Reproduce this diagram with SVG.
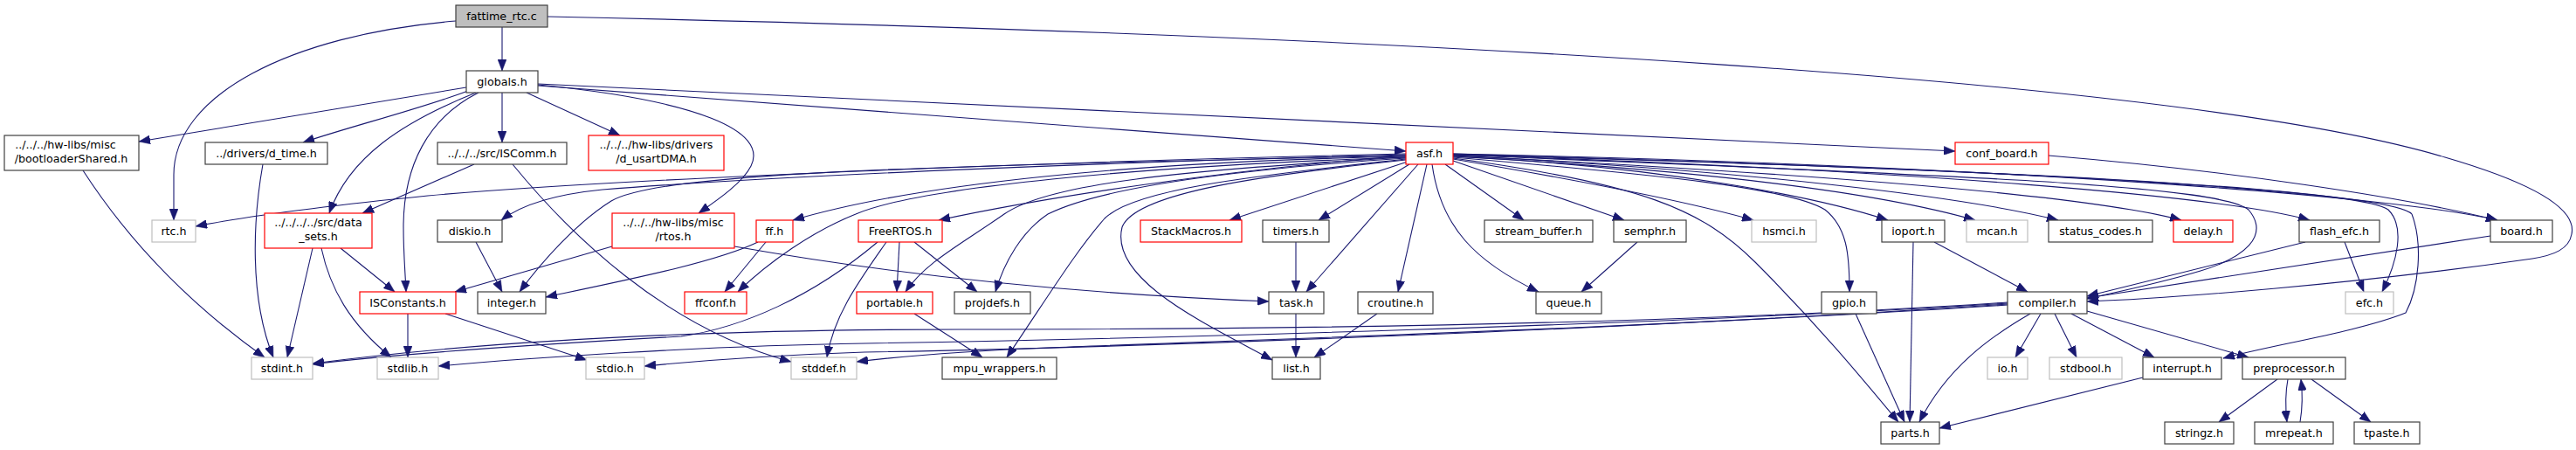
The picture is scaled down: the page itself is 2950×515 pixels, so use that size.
<svg xmlns="http://www.w3.org/2000/svg" width="2950" height="515" viewBox="0 0 2950 515">
<style>
.n rect{fill:#fff;stroke:#404040;stroke-width:1.2}
.g rect{fill:#fff;stroke:#bfbfbf;stroke-width:1.2}
.r rect{fill:#fff;stroke:#ff0000;stroke-width:1.2}
.root rect{fill:#bfbfbf;stroke:#404040;stroke-width:1.2}
text{font-family:"DejaVu Sans","Liberation Sans",sans-serif;font-size:12.7px;text-anchor:middle;fill:#000}
#edges path{fill:none;stroke:#191970;stroke-width:1.1;marker-end:url(#ah)}
</style>
<defs>
<marker id="ah" viewBox="0 0 13 10" markerWidth="13" markerHeight="10" refX="13" refY="5" orient="auto" markerUnits="userSpaceOnUse">
<path d="M0,0 L13,5 L0,10 z" fill="#191970" stroke="#191970" stroke-width="0.5"/>
</marker>
</defs>
<rect width="2950" height="515" fill="#fff"/>
<g id="edges">
<path d="M575,31 L575,81"/>
<path d="M522,24 C330,40 199,110 199,200 L199,252"/>
<path d="M627,19 C1600,40 2500,90 2800,180 C2920,215 2950,245 2945,268 C2942,285 2925,292 2900,296 C2700,325 2480,342 2390,345"/>
<path d="M534,100 L159,162"/>
<path d="M536,104 C480,125 400,145 347,163"/>
<path d="M545,106 C460,140 400,180 377,244"/>
<path d="M548,106 C490,135 462,190 462,260 C462,290 464,310 465,334"/>
<path d="M575,106 L575,163"/>
<path d="M603,106 L710,155"/>
<path d="M616,97 C800,115 880,150 860,190 C850,210 820,230 800,244"/>
<path d="M616,96 L2239,173"/>
<path d="M616,98 L1610,173"/>
<path d="M543,188 L415,244"/>
<path d="M587,188 C650,265 760,375 906,414"/>
<path d="M358,284 L329,409"/>
<path d="M368,284 C378,330 400,370 448,409"/>
<path d="M390,284 L452,334"/>
<path d="M301,188 C290,250 285,340 313,409"/>
<path d="M95,195 C150,280 220,350 303,409"/>
<path d="M467,359 L467,409"/>
<path d="M510,359 L672,412"/>
<path d="M701,282 L521,334"/>
<path d="M841,282 C1000,310 1200,335 1453,345"/>
<path d="M545,277 L575,334"/>
<path d="M877,277 L830,334"/>
<path d="M868,277 C820,300 720,320 625,340"/>
<path d="M1030,277 L1027,334"/>
<path d="M1047,277 L1119,334"/>
<path d="M1005,277 C930,340 850,375 780,385 C600,395 450,405 358,417"/>
<path d="M1015,277 C985,320 955,360 947,409"/>
<path d="M1047,359 L1125,409"/>
<path d="M1484,277 L1484,334"/>
<path d="M1484,359 L1484,409"/>
<path d="M1577,359 L1505,409"/>
<path d="M1875,277 L1811,334"/>
<path d="M2191,277 L2187,483"/>
<path d="M2215,277 L2322,334"/>
<path d="M2125,359 L2181,483"/>
<path d="M2325,359 C2280,385 2230,420 2198,483"/>
<path d="M2337,359 L2308,409"/>
<path d="M2353,359 L2378,409"/>
<path d="M2372,359 L2467,409"/>
<path d="M2390,356 L2575,409"/>
<path d="M2454,432 L2221,490"/>
<path d="M2608,434 L2541,483"/>
<path d="M2620,434 C2617,450 2617,465 2619,483"/>
<path d="M2634,483 C2637,465 2637,450 2635,434"/>
<path d="M2647,434 L2715,483"/>
<path d="M2685,277 L2707,334"/>
<path d="M2640,277 L2390,339"/>
<path d="M2852,270 L2390,341"/>
<path d="M2346,178 C2550,195 2750,225 2860,252"/>
<path d="M1610,176 C1200,185 700,205 490,224 C380,235 280,248 224,259"/>
<path d="M1610,177 C1300,185 900,200 690,217 C640,222 600,232 574,252"/>
<path d="M1610,178 C1100,190 760,195 700,230 C660,255 620,300 595,334"/>
<path d="M1610,179 C1300,185 1050,210 908,252"/>
<path d="M1610,180 C1300,190 1050,215 980,245 C930,265 880,300 845,334"/>
<path d="M1610,178 C1400,195 1200,225 1075,252"/>
<path d="M1610,180 C1350,195 1200,210 1150,245 C1100,280 1060,300 1037,334"/>
<path d="M1610,181 C1400,195 1260,215 1200,245 C1170,265 1150,300 1140,334"/>
<path d="M1610,182 C1450,200 1300,215 1265,250 C1230,290 1200,340 1153,409"/>
<path d="M1610,183 C1450,200 1300,220 1285,260 C1270,320 1380,370 1457,412"/>
<path d="M1612,185 L1408,252"/>
<path d="M1614,188 L1510,252"/>
<path d="M1624,188 L1496,334"/>
<path d="M1634,188 L1601,334"/>
<path d="M1640,188 C1650,260 1690,300 1762,334"/>
<path d="M1655,188 L1745,252"/>
<path d="M1664,184 L1860,252"/>
<path d="M1664,182 C1800,205 1930,230 2008,252"/>
<path d="M1664,181 C1880,210 1950,240 2010,300 C2080,370 2130,430 2174,483"/>
<path d="M1664,180 C1900,200 2050,215 2090,240 C2115,260 2118,290 2118,334"/>
<path d="M1664,179 C1900,190 2080,225 2162,252"/>
<path d="M1664,179 C1950,195 2150,220 2262,252"/>
<path d="M1664,178 C2000,195 2250,225 2357,252"/>
<path d="M1664,178 C2100,200 2400,225 2498,252"/>
<path d="M1664,177 C2200,195 2550,225 2645,252"/>
<path d="M1664,176 C2300,190 2750,225 2860,252"/>
<path d="M1664,177 C2200,200 2540,210 2575,240 C2600,270 2570,295 2520,310 C2470,325 2420,335 2390,342"/>
<path d="M1664,176 C2300,195 2700,215 2735,240 C2755,260 2745,300 2728,334"/>
<path d="M1664,177 C2350,195 2740,220 2762,245 C2775,280 2770,330 2755,358 C2700,380 2600,395 2546,410"/>
<path d="M2299,346 C2000,366 1600,377 1100,377 C700,377 480,400 358,416"/>
<path d="M2299,347 C1900,372 1300,388 990,393 C800,396 600,410 502,419"/>
<path d="M2299,348 C1900,375 1300,398 990,403 C900,406 800,413 738,419"/>
<path d="M2299,349 C1900,375 1400,390 1200,398 C1100,402 1030,408 981,414"/>
</g>
<g id="n_fattime" class="root"><rect x="522" y="6" width="105" height="25"/><text x="574.5" y="22.5">fattime_rtc.c</text></g>
<g id="n_globals" class="n"><rect x="534" y="81" width="82" height="25"/><text x="575" y="97.5">globals.h</text></g>
<g id="n_bootloader" class="n"><rect x="5" y="155" width="154" height="40"/><text x="75" y="170">../../../hw-libs/misc</text><text x="81.5" y="185.5">/bootloaderShared.h</text></g>
<g id="n_dtime" class="n"><rect x="235" y="163" width="140" height="25"/><text x="305" y="179.5">../drivers/d_time.h</text></g>
<g id="n_iscomm" class="n"><rect x="501" y="163" width="148" height="25"/><text x="575" y="179.5">../../../src/ISComm.h</text></g>
<g id="n_usartdma" class="r"><rect x="674" y="155" width="155" height="40"/><text x="751.5" y="170">../../../hw-libs/drivers</text><text x="751.5" y="185.5">/d_usartDMA.h</text></g>
<g id="n_asf" class="r"><rect x="1610" y="163" width="54" height="25"/><text x="1637" y="179.5">asf.h</text></g>
<g id="n_confboard" class="r"><rect x="2239" y="163" width="107" height="25"/><text x="2292.5" y="179.5">conf_board.h</text></g>
<g id="n_rtc" class="g"><rect x="174" y="252" width="50" height="25"/><text x="199" y="268.5">rtc.h</text></g>
<g id="n_datasets" class="r"><rect x="303" y="244" width="123" height="40"/><text x="364.5" y="259">../../../../src/data</text><text x="364.5" y="274.5">_sets.h</text></g>
<g id="n_diskio" class="n"><rect x="501" y="252" width="74" height="25"/><text x="538" y="268.5">diskio.h</text></g>
<g id="n_rtos" class="r"><rect x="701" y="244" width="140" height="40"/><text x="771" y="259">../../../hw-libs/misc</text><text x="771" y="274.5">/rtos.h</text></g>
<g id="n_ff" class="r"><rect x="866" y="252" width="42" height="25"/><text x="887" y="268.5">ff.h</text></g>
<g id="n_freertos" class="r"><rect x="983" y="252" width="96" height="25"/><text x="1031" y="268.5">FreeRTOS.h</text></g>
<g id="n_stackmacros" class="r"><rect x="1306" y="252" width="116" height="25"/><text x="1364" y="268.5">StackMacros.h</text></g>
<g id="n_timers" class="n"><rect x="1446" y="252" width="76" height="25"/><text x="1484" y="268.5">timers.h</text></g>
<g id="n_streambuffer" class="n"><rect x="1700" y="252" width="124" height="25"/><text x="1762" y="268.5">stream_buffer.h</text></g>
<g id="n_semphr" class="n"><rect x="1848" y="252" width="83" height="25"/><text x="1889.5" y="268.5">semphr.h</text></g>
<g id="n_hsmci" class="g"><rect x="2006" y="252" width="74" height="25"/><text x="2043" y="268.5">hsmci.h</text></g>
<g id="n_ioport" class="n"><rect x="2155" y="252" width="72" height="25"/><text x="2191" y="268.5">ioport.h</text></g>
<g id="n_mcan" class="g"><rect x="2252" y="252" width="70" height="25"/><text x="2287" y="268.5">mcan.h</text></g>
<g id="n_statuscodes" class="n"><rect x="2346" y="252" width="119" height="25"/><text x="2405.5" y="268.5">status_codes.h</text></g>
<g id="n_delay" class="r"><rect x="2489" y="252" width="68" height="25"/><text x="2523" y="268.5">delay.h</text></g>
<g id="n_flashefc" class="n"><rect x="2633" y="252" width="92" height="25"/><text x="2679" y="268.5">flash_efc.h</text></g>
<g id="n_board" class="n"><rect x="2852" y="252" width="71" height="25"/><text x="2887.5" y="268.5">board.h</text></g>
<g id="n_isconstants" class="r"><rect x="412" y="334" width="110" height="25"/><text x="467" y="350.5">ISConstants.h</text></g>
<g id="n_integer" class="n"><rect x="547" y="334" width="78" height="25"/><text x="586" y="350.5">integer.h</text></g>
<g id="n_ffconf" class="r"><rect x="784" y="334" width="71" height="25"/><text x="819.5" y="350.5">ffconf.h</text></g>
<g id="n_portable" class="r"><rect x="981" y="334" width="87" height="25"/><text x="1024.5" y="350.5">portable.h</text></g>
<g id="n_projdefs" class="n"><rect x="1093" y="334" width="87" height="25"/><text x="1136.5" y="350.5">projdefs.h</text></g>
<g id="n_task" class="n"><rect x="1453" y="334" width="63" height="25"/><text x="1484.5" y="350.5">task.h</text></g>
<g id="n_croutine" class="n"><rect x="1555" y="334" width="86" height="25"/><text x="1598" y="350.5">croutine.h</text></g>
<g id="n_queue" class="n"><rect x="1759" y="334" width="75" height="25"/><text x="1796.5" y="350.5">queue.h</text></g>
<g id="n_gpio" class="n"><rect x="2086" y="334" width="63" height="25"/><text x="2117.5" y="350.5">gpio.h</text></g>
<g id="n_compiler" class="n"><rect x="2299" y="334" width="91" height="25"/><text x="2344.5" y="350.5">compiler.h</text></g>
<g id="n_efc" class="g"><rect x="2686" y="334" width="55" height="25"/><text x="2713.5" y="350.5">efc.h</text></g>
<g id="n_stdint" class="g"><rect x="288" y="409" width="70" height="25"/><text x="323" y="425.5">stdint.h</text></g>
<g id="n_stdlib" class="g"><rect x="432" y="409" width="70" height="25"/><text x="467" y="425.5">stdlib.h</text></g>
<g id="n_stdio" class="g"><rect x="671" y="409" width="67" height="25"/><text x="704.5" y="425.5">stdio.h</text></g>
<g id="n_stddef" class="g"><rect x="906" y="409" width="75" height="25"/><text x="943.5" y="425.5">stddef.h</text></g>
<g id="n_mpuwrappers" class="n"><rect x="1079" y="409" width="131" height="25"/><text x="1144.5" y="425.5">mpu_wrappers.h</text></g>
<g id="n_list" class="n"><rect x="1457" y="409" width="55" height="25"/><text x="1484.5" y="425.5">list.h</text></g>
<g id="n_io" class="g"><rect x="2276" y="409" width="46" height="25"/><text x="2299" y="425.5">io.h</text></g>
<g id="n_stdbool" class="g"><rect x="2347" y="409" width="83" height="25"/><text x="2388.5" y="425.5">stdbool.h</text></g>
<g id="n_interrupt" class="n"><rect x="2454" y="409" width="90" height="25"/><text x="2499" y="425.5">interrupt.h</text></g>
<g id="n_preprocessor" class="n"><rect x="2568" y="409" width="118" height="25"/><text x="2627" y="425.5">preprocessor.h</text></g>
<g id="n_parts" class="n"><rect x="2154" y="483" width="67" height="25"/><text x="2187.5" y="499.5">parts.h</text></g>
<g id="n_stringz" class="n"><rect x="2479" y="483" width="79" height="25"/><text x="2518.5" y="499.5">stringz.h</text></g>
<g id="n_mrepeat" class="n"><rect x="2582" y="483" width="90" height="25"/><text x="2627" y="499.5">mrepeat.h</text></g>
<g id="n_tpaste" class="n"><rect x="2696" y="483" width="75" height="25"/><text x="2733.5" y="499.5">tpaste.h</text></g>
</svg>
